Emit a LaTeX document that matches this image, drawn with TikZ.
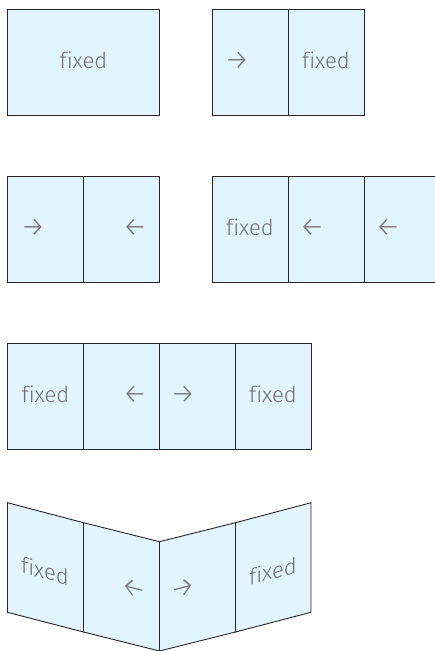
\documentclass[tikz,border=0pt]{standalone}
\usepackage{fontspec}
\setmainfont{Fira Sans Light}[Ligatures=NoCommon]
\definecolor{paneblue}{HTML}{E2F4FD}
\definecolor{labelgray}{HTML}{707070}
\definecolor{arrowgray}{HTML}{7A7A7A}
\tikzset{
  panel/.style={draw=black!85,line width=0.9pt,fill=paneblue,line join=miter},
  flat/.style={panel,rectangle,minimum width=76pt,minimum height=106pt,inner sep=0pt,outer sep=0pt,anchor=north west},
  lbl/.style={text=labelgray,font=\fontsize{22}{24}\selectfont,inner sep=0pt,anchor=center},
  arr/.style={text=arrowgray,font=\fontsize{28}{30}\selectfont,inner sep=0pt,anchor=center},
  leftfold/.style={transform shape,cm={1,-0.26,0,1,(0,0)}},
  rightfold/.style={transform shape,cm={1,0.26,0,1,(0,0)}},
}
\begin{document}
\begin{tikzpicture}[x=1pt,y=-1pt]
\useasboundingbox (0,0) rectangle (435,651);
\clip (0,0) rectangle (435,651);
% row 1
\node[flat,minimum width=152pt] (a1) at (7.5,9) {};
\node[lbl] (a1t) at (83.5,60) {fixed};
\node[flat] (b1) at (212.5,9) {};
\node[flat] (b2) at (288.5,9) {};
\node[arr] (b1t) at (237,61) {→};
\node[lbl] (b2t) at (326,60) {fixed};
% row 2
\node[flat] (c1) at (7.5,176) {};
\node[flat] (c2) at (83.5,176) {};
\node[arr] (c1t) at (33,228) {→};
\node[arr] (c2t) at (135,228) {←};
\node[flat] (d1) at (212.5,176) {};
\node[flat] (d2) at (288.5,176) {};
\node[flat] (d3) at (364.5,176) {};
\node[lbl] (d1t) at (250,227) {fixed};
\node[arr] (d2t) at (312,228) {←};
\node[arr] (d3t) at (388,228) {←};
% row 3
\node[flat] (e1) at (7.5,343) {};
\node[flat] (e2) at (83.5,343) {};
\node[flat] (e3) at (159.5,343) {};
\node[flat] (e4) at (235.5,343) {};
\node[lbl] (e1t) at (45.5,394) {fixed};
\node[arr] (e2t) at (135,395) {←};
\node[arr] (e3t) at (183,395) {→};
\node[lbl] (e4t) at (273,394) {fixed};
% row 4: the same four panels, folded
\draw[panel] (7.5,502.7) -- (83.5,522.7) -- (83.5,632) -- (7.5,612.3) -- cycle;
\draw[panel] (83.5,522.7) -- (159.5,541.7) -- (159.5,651) -- (83.5,632) -- cycle;
\draw[panel] (159.5,541.7) -- (235.5,522.7) -- (235.5,632) -- (159.5,651) -- cycle;
\draw[panel] (235.5,522.7) -- (311,502.7) -- (311,612.3) -- (235.5,632) -- cycle;
\node[lbl,leftfold] (f1t) at (45,571) {fixed};
\node[arr,leftfold] (f2t) at (134,589) {←};
\node[arr,rightfold] (f3t) at (183,589) {→};
\node[lbl,rightfold] (f4t) at (273,571) {fixed};
\end{tikzpicture}
\end{document}
